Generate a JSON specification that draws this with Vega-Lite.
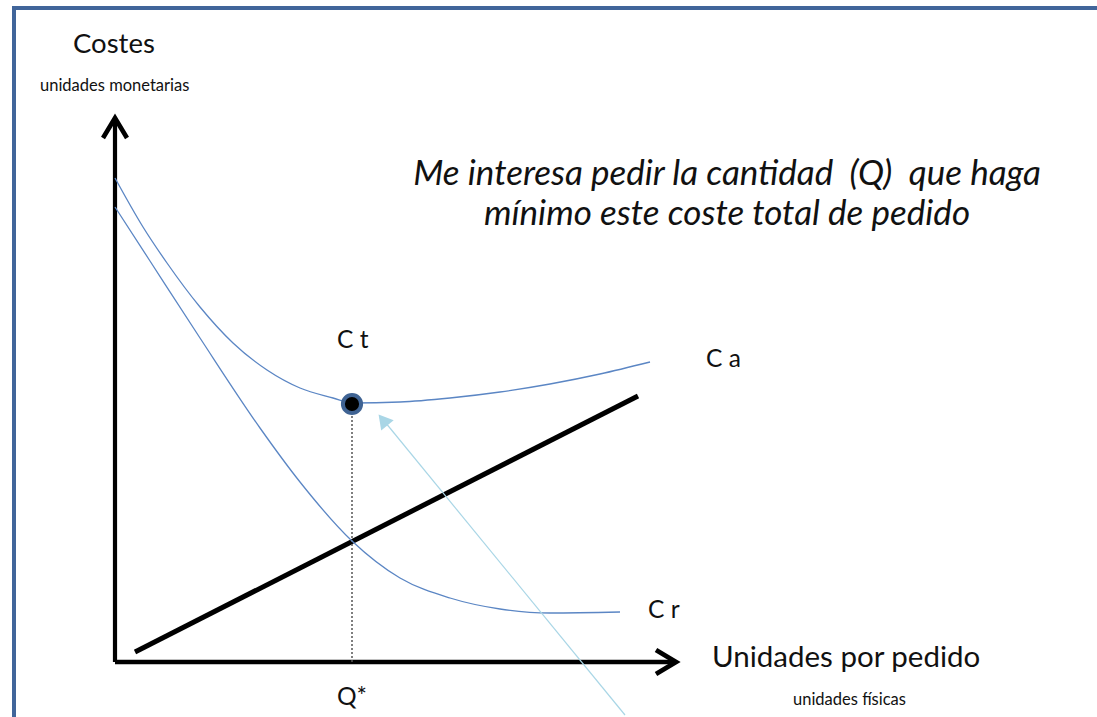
{
  "$schema": "https://vega.github.io/schema/vega-lite/v6.json",
  "width": 1097,
  "height": 717,
  "autosize": {"type": "none"},
  "padding": 0,
  "background": "white",
  "config": {"view": {"stroke": null}},
  "datasets": {
    "lines": [
      {"s": "border", "o": 1, "u": -101, "v": -60},
      {"s": "border", "o": 2, "u": -101, "v": 654},
      {"s": "border", "o": 3, "u": 985, "v": 654},
      {"s": "yaxis", "o": 1, "u": 0, "v": 0},
      {"s": "yaxis", "o": 2, "u": 0, "v": 544},
      {"s": "xaxis", "o": 1, "u": 0, "v": 0},
      {"s": "xaxis", "o": 2, "u": 561, "v": 0},
      {"s": "yhead", "o": 1, "u": -12, "v": 524},
      {"s": "yhead", "o": 2, "u": 0, "v": 544},
      {"s": "yhead", "o": 3, "u": 12, "v": 524},
      {"s": "xhead", "o": 1, "u": 541, "v": 12},
      {"s": "xhead", "o": 2, "u": 561, "v": 0},
      {"s": "xhead", "o": 3, "u": 541, "v": -12},
      {"s": "linear", "o": 1, "u": 20, "v": 10},
      {"s": "linear", "o": 2, "u": 523, "v": 266}
    ],
    "curves": [
      {"s": "Ct", "o": 1, "u": 0, "v": 484},
      {"s": "Ct", "o": 2, "u": 28, "v": 435},
      {"s": "Ct", "o": 3, "u": 52, "v": 399},
      {"s": "Ct", "o": 4, "u": 85, "v": 355},
      {"s": "Ct", "o": 5, "u": 118, "v": 319},
      {"s": "Ct", "o": 6, "u": 152, "v": 292},
      {"s": "Ct", "o": 7, "u": 185, "v": 274},
      {"s": "Ct", "o": 8, "u": 218, "v": 264},
      {"s": "Ct", "o": 9, "u": 237, "v": 259},
      {"s": "Ct", "o": 10, "u": 285, "v": 260},
      {"s": "Ct", "o": 11, "u": 335, "v": 264},
      {"s": "Ct", "o": 12, "u": 385, "v": 270},
      {"s": "Ct", "o": 13, "u": 435, "v": 278},
      {"s": "Ct", "o": 14, "u": 485, "v": 288},
      {"s": "Ct", "o": 15, "u": 535, "v": 300},
      {"s": "Cr", "o": 1, "u": 0, "v": 455},
      {"s": "Cr", "o": 2, "u": 35, "v": 401},
      {"s": "Cr", "o": 3, "u": 85, "v": 324},
      {"s": "Cr", "o": 4, "u": 145, "v": 234},
      {"s": "Cr", "o": 5, "u": 185, "v": 180},
      {"s": "Cr", "o": 6, "u": 237, "v": 121},
      {"s": "Cr", "o": 7, "u": 285, "v": 84},
      {"s": "Cr", "o": 8, "u": 335, "v": 64},
      {"s": "Cr", "o": 9, "u": 385, "v": 53},
      {"s": "Cr", "o": 10, "u": 435, "v": 49},
      {"s": "Cr", "o": 11, "u": 505, "v": 50}
    ],
    "bigtexts": [
      {"t": "Unidades por pedido", "u": 597, "v": -5}
    ],
    "costes": [
      {"t": "Costes", "u": -42, "v": 609}
    ],
    "smalltexts": [
      {"t": "unidades monetarias", "u": -75, "v": 571},
      {"t": "unidades físicas", "u": 678, "v": -43}
    ],
    "labels": [
      {"t": "C t", "u": 222, "v": 314},
      {"t": "C a", "u": 591, "v": 295},
      {"t": "C r", "u": 533, "v": 44}
    ],
    "italic": [
      {"t": "Me interesa pedir la cantidad\u00a0\u00a0(Q)\u00a0\u00a0que haga", "u": 612, "v": 477},
      {"t": "mínimo este coste total de pedido", "u": 612, "v": 437}
    ]
  },
  "layer": [
    {
      "data": {"name": "lines"},
      "mark": {"type": "line", "strokeCap": "butt", "strokeJoin": "miter"},
      "encoding": {
        "x": {"field": "u", "type": "quantitative", "scale": {"domain": [-115, 982], "nice": false, "zero": false}, "axis": null},
        "y": {"field": "v", "type": "quantitative", "scale": {"domain": [-55, 662], "nice": false, "zero": false}, "axis": null},
        "order": {"field": "o"},
        "detail": {"field": "s"},
        "color": {"field": "s", "type": "nominal", "legend": null,
          "scale": {"domain": ["border", "yaxis", "xaxis", "yhead", "xhead", "linear"],
                    "range": ["#41659a", "#000000", "#000000", "#000000", "#000000", "#000000"]}},
        "strokeWidth": {"field": "s", "type": "nominal", "legend": null,
          "scale": {"domain": ["border", "yaxis", "xaxis", "yhead", "xhead", "linear"],
                    "range": [4, 5, 5, 5, 5, 4]}}
      }
    },
    {
      "data": {"values": [{"u": 237, "v": 0}, {"u": 237, "v": 252}]},
      "mark": {"type": "line", "color": "#555555", "strokeWidth": 1.5, "strokeDash": [2, 2]},
      "encoding": {
        "x": {"field": "u", "type": "quantitative"},
        "y": {"field": "v", "type": "quantitative"}
      }
    },
    {
      "data": {"name": "curves"},
      "mark": {"type": "line", "interpolate": "monotone", "color": "#5b86c4", "strokeWidth": 1.3},
      "encoding": {
        "x": {"field": "u", "type": "quantitative"},
        "y": {"field": "v", "type": "quantitative"},
        "order": {"field": "o"},
        "detail": {"field": "s"}
      }
    },
    {
      "data": {"values": [{"u": 510, "v": -53}, {"u": 270, "v": 240}]},
      "mark": {"type": "line", "color": "#a9d6e6", "strokeWidth": 1.2},
      "encoding": {
        "x": {"field": "u", "type": "quantitative"},
        "y": {"field": "v", "type": "quantitative"}
      }
    },
    {
      "data": {"values": [{"u": 268, "v": 242}]},
      "mark": {"type": "point", "shape": "triangle-up", "filled": true, "color": "#a9d6e6", "opacity": 1, "size": 260, "angle": 320.5},
      "encoding": {
        "x": {"field": "u", "type": "quantitative"},
        "y": {"field": "v", "type": "quantitative"}
      }
    },
    {
      "data": {"values": [{"u": 237, "v": 258}]},
      "mark": {"type": "point", "shape": "circle", "filled": true, "fill": "#000000", "stroke": "#3f6393", "strokeWidth": 4, "size": 330, "opacity": 1, "fillOpacity": 1, "strokeOpacity": 1},
      "encoding": {
        "x": {"field": "u", "type": "quantitative"},
        "y": {"field": "v", "type": "quantitative"}
      }
    },
    {
      "data": {"name": "bigtexts"},
      "mark": {"type": "text", "font": "Lato", "fontSize": 29.5, "align": "left", "baseline": "alphabetic", "color": "#111111"},
      "encoding": {
        "x": {"field": "u", "type": "quantitative"},
        "y": {"field": "v", "type": "quantitative"},
        "text": {"field": "t"}
      }
    },
    {
      "data": {"name": "costes"},
      "mark": {"type": "text", "font": "Lato", "fontSize": 27.5, "align": "left", "baseline": "alphabetic", "color": "#111111"},
      "encoding": {
        "x": {"field": "u", "type": "quantitative"},
        "y": {"field": "v", "type": "quantitative"},
        "text": {"field": "t"}
      }
    },
    {
      "data": {"name": "smalltexts"},
      "mark": {"type": "text", "font": "Lato", "fontSize": 16.5, "align": "left", "baseline": "alphabetic", "color": "#111111"},
      "encoding": {
        "x": {"field": "u", "type": "quantitative"},
        "y": {"field": "v", "type": "quantitative"},
        "text": {"field": "t"}
      }
    },
    {
      "data": {"name": "labels"},
      "mark": {"type": "text", "font": "Lato", "fontSize": 24.5, "align": "left", "baseline": "alphabetic", "color": "#111111"},
      "encoding": {
        "x": {"field": "u", "type": "quantitative"},
        "y": {"field": "v", "type": "quantitative"},
        "text": {"field": "t"}
      }
    },
    {
      "data": {"values": [{"t": "Q*", "u": 237, "v": -43}]},
      "mark": {"type": "text", "font": "Lato", "fontSize": 24.5, "align": "center", "baseline": "alphabetic", "color": "#111111"},
      "encoding": {
        "x": {"field": "u", "type": "quantitative"},
        "y": {"field": "v", "type": "quantitative"},
        "text": {"field": "t"}
      }
    },
    {
      "data": {"name": "italic"},
      "mark": {"type": "text", "font": "Lato", "fontStyle": "italic", "fontSize": 35, "align": "center", "baseline": "alphabetic", "color": "#111111"},
      "encoding": {
        "x": {"field": "u", "type": "quantitative"},
        "y": {"field": "v", "type": "quantitative"},
        "text": {"field": "t"}
      }
    }
  ]
}
